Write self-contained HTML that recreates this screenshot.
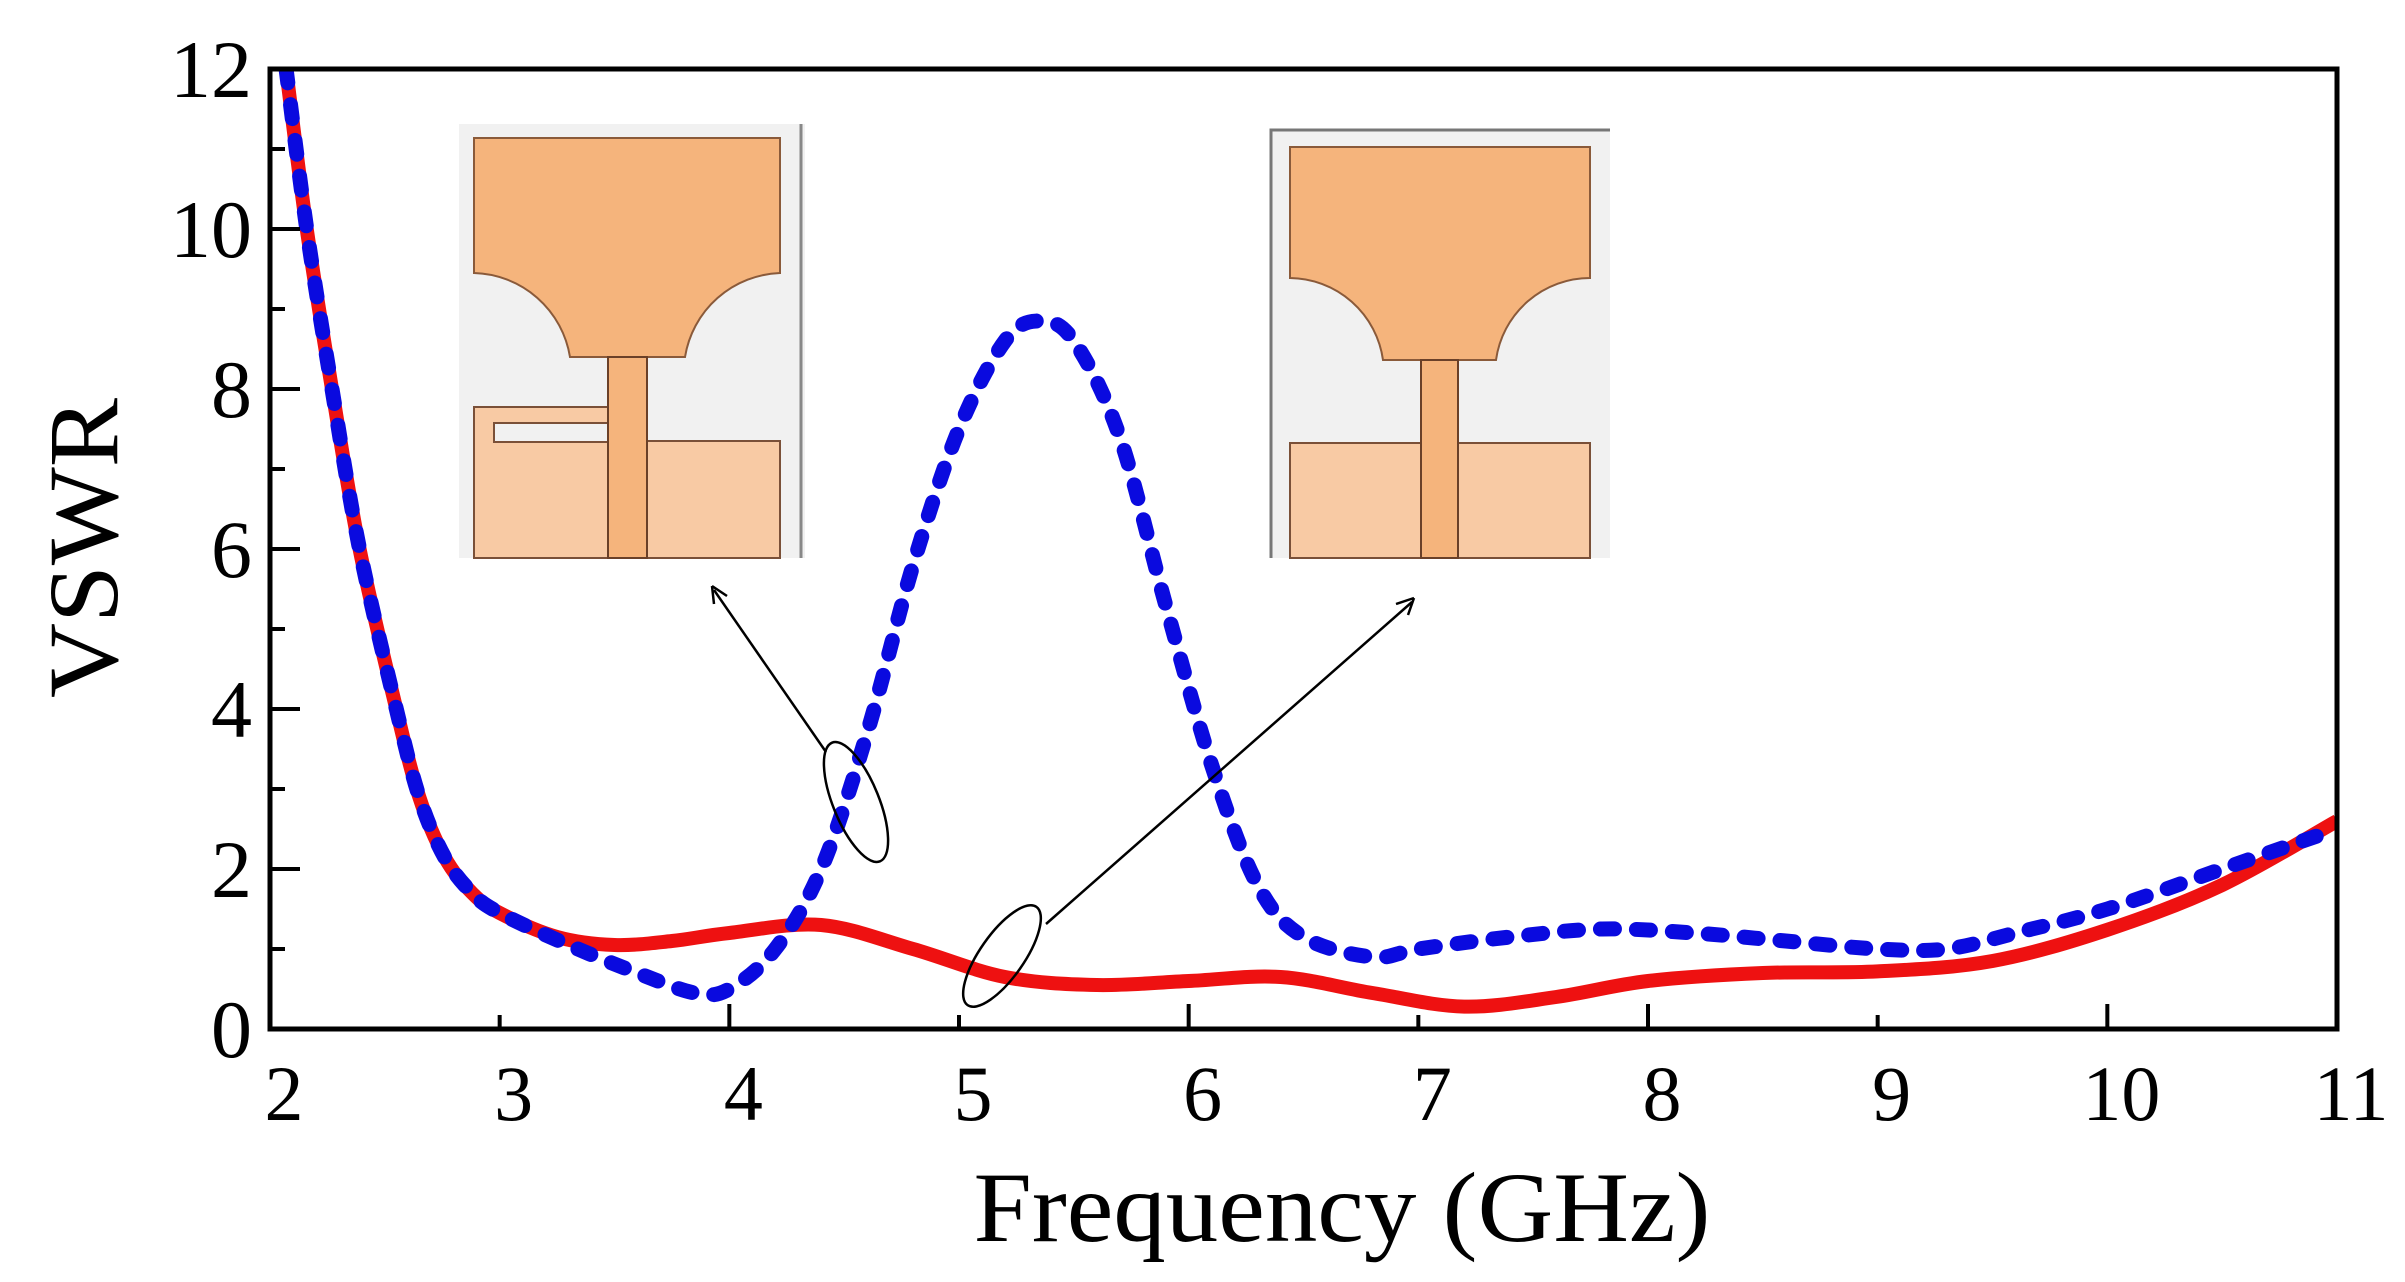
<!DOCTYPE html>
<html><head><meta charset="utf-8"><style>
html,body{margin:0;padding:0;background:#fff;}
svg{display:block;}
text{font-family:"Liberation Serif",serif;fill:#000;}
</style></head><body>
<svg id="chart" width="2405" height="1282" viewBox="0 0 2405 1282" xmlns="http://www.w3.org/2000/svg">
<rect width="2405" height="1282" fill="#fff"/>
<g id="insets">
 <g>
  <rect x="459" y="124" width="346" height="434" fill="#f1f1f1"/>
  <line x1="801" y1="124" x2="801" y2="558" stroke="#888" stroke-width="3"/>
  <path d="M474 138 H780 V273 A100 100 0 0 0 685 357 H570 A100 100 0 0 0 474 273 Z" fill="#f5b47c" stroke="#8a5a3a" stroke-width="2"/>
  <path d="M474 558 V407 H608 V423 H494 V442 H608 V558 Z" fill="#f8caa4" stroke="#7a5038" stroke-width="2"/>
  <rect x="647" y="441" width="133" height="117" fill="#f8caa4" stroke="#7a5038" stroke-width="2"/>
  <rect x="608" y="357" width="39" height="201" fill="#f5b47c" stroke="#6a4028" stroke-width="2"/>
 </g>
 <g>
  <rect x="1270" y="130" width="340" height="428" fill="#f1f1f1"/>
  <path d="M1271 558 V130 H1610" fill="none" stroke="#777" stroke-width="3"/>
  <path d="M1290 147 H1590 V278 A95 95 0 0 0 1496 360 H1383 A95 95 0 0 0 1290 278 Z" fill="#f5b47c" stroke="#8a5a3a" stroke-width="2"/>
  <rect x="1290" y="443" width="300" height="115" fill="#f8caa4" stroke="#7a5038" stroke-width="2"/>
  <rect x="1421" y="360" width="37" height="198" fill="#f5b47c" stroke="#6a4028" stroke-width="2"/>
 </g>
</g>
<g id="plot"></g>
<g id="annot">
 <ellipse cx="856" cy="802" rx="23" ry="64" transform="rotate(-22 856 802)" fill="none" stroke="#000" stroke-width="2.5"/>
 <line x1="826" y1="752" x2="714" y2="590" stroke="#000" stroke-width="2.5"/>
 <path d="M712 586 L714 604 M712 586 L727 596" stroke="#000" stroke-width="2.5" fill="none"/>
 <ellipse cx="1002" cy="956" rx="22" ry="60" transform="rotate(35 1002 956)" fill="none" stroke="#000" stroke-width="2.5"/>
 <line x1="1046" y1="924" x2="1412" y2="602" stroke="#000" stroke-width="2.5"/>
 <path d="M1414 598 L1396 604 M1414 598 L1408 615" stroke="#000" stroke-width="2.5" fill="none"/>
</g>
<text x="1342" y="1241" font-size="100" text-anchor="middle" textLength="737" lengthAdjust="spacingAndGlyphs">Frequency (GHz)</text>
<text transform="translate(117 548) rotate(-90)" font-size="100" text-anchor="middle" textLength="300" lengthAdjust="spacingAndGlyphs">VSWR</text>
</svg>
<script>
const xTicks=[2,3,4,5,6,7,8,9,10,11];
const yTicks=[0,2,4,6,8,10,12];
const redFreq=[2.07,2.16,2.27,2.39,2.55,2.65,2.76,2.88,3.0,3.25,3.5,3.75,4.0,4.4,4.8,5.2,5.6,6.0,6.4,6.8,7.2,7.6,8.0,8.5,9.0,9.5,10.0,10.5,11.0];
const redVswr=[12,10,8,6,4,2.9,2.15,1.7,1.45,1.15,1.05,1.1,1.2,1.3,1.0,0.65,0.55,0.6,0.65,0.45,0.28,0.4,0.6,0.7,0.72,0.85,1.24,1.8,2.6];
const blueFreq=[2.07,2.16,2.27,2.39,2.55,2.65,2.76,2.88,3.0,3.3,3.6,3.85,4.0,4.2,4.4,4.6,4.8,5.0,5.2,5.35,5.5,5.7,5.9,6.1,6.3,6.5,6.8,7.0,7.4,7.8,8.2,8.6,9.0,9.3,9.6,10.0,10.5,11.0];
const blueVswr=[12,10,8,6,4,2.9,2.15,1.7,1.45,1.05,0.7,0.45,0.5,1.0,2.0,3.7,5.8,7.5,8.6,8.85,8.6,7.4,5.3,3.3,1.8,1.15,0.9,1.0,1.15,1.25,1.2,1.1,1.0,1.0,1.2,1.5,2.0,2.5];
const X0=270,X1=2337,Y0=1029,Y1=69;
const xs=f=>X0+(f-2)/9*(X1-X0);
const ys=v=>Y0-v/12*(Y0-Y1);
const NS='http://www.w3.org/2000/svg';
const plot=document.getElementById('plot');
function mk(tag,attrs,parent){const e=document.createElementNS(NS,tag);for(const k in attrs)e.setAttribute(k,attrs[k]);(parent||plot).appendChild(e);return e;}
function smooth(fx,fy){const p=fx.map((f,i)=>[xs(f),ys(fy[i])]);let d='M'+p[0][0]+' '+p[0][1];
for(let i=0;i<p.length-1;i++){const a=p[Math.max(0,i-1)],b=p[i],c=p[i+1],e=p[Math.min(p.length-1,i+2)];
d+=' C'+(b[0]+(c[0]-a[0])/6)+' '+(b[1]+(c[1]-a[1])/6)+' '+(c[0]-(e[0]-b[0])/6)+' '+(c[1]-(e[1]-b[1])/6)+' '+c[0]+' '+c[1];}return d;}
const clip=mk('clipPath',{id:'pc'});mk('rect',{x:X0,y:Y1,width:X1-X0,height:Y0-Y1},clip);
const red=mk('path',{d:smooth(redFreq,redVswr),fill:'none',stroke:'#ee1111','stroke-width':14,'clip-path':'url(#pc)'});


const blue=mk('path',{d:smooth(blueFreq,blueVswr),fill:'none',stroke:'#0a0adf','stroke-width':15,'stroke-dasharray':'14 22','stroke-linecap':'round','clip-path':'url(#pc)'});


const frame=mk('rect',{x:X0,y:Y1,width:X1-X0,height:Y0-Y1,fill:'none',stroke:'#000','stroke-width':5});


xTicks.forEach(t=>{const x=xs(t);const L=(t%2===0)?25:14;
 mk('line',{x1:x,y1:Y0,x2:x,y2:Y0-L,stroke:'#000','stroke-width':4});
 const tx=mk('text',{x:x+14,y:1120,'font-size':78,'text-anchor':'middle'});tx.textContent=t;
 
 });
for(let v=1;v<12;v+=2){const y=ys(v);mk('line',{x1:X0,y1:y,x2:X0+15,y2:y,stroke:'#000','stroke-width':4});}
yTicks.forEach(t=>{const y=ys(t);mk('line',{x1:X0,y1:y,x2:X0+30,y2:y,stroke:'#000','stroke-width':4});
 const tx=mk('text',{x:252,y:y+28,'font-size':82,'text-anchor':'end'});tx.textContent=t;
 
 });
</script>
</body></html>
